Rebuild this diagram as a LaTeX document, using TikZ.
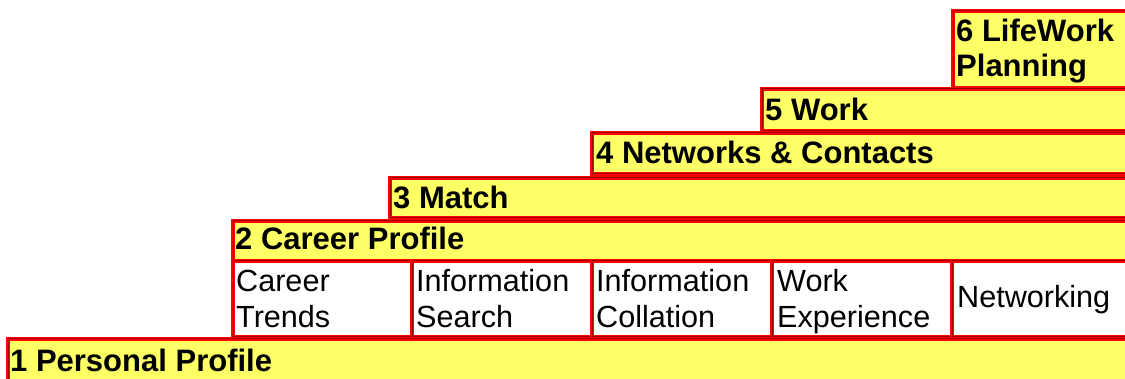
\documentclass[tikz,border=0pt]{standalone}
\usepackage{fontspec}
\setmainfont{Liberation Sans}
\definecolor{boxfill}{HTML}{FFFF66}
\definecolor{edgered}{HTML}{FF0000}
\definecolor{edgedark}{HTML}{A00000}
\tikzset{
  tierbox/.style={draw=edgered, double=edgedark, double distance=1pt, line width=1.1pt, fill=boxfill},
  subbox/.style={draw=edgered, double=edgedark, double distance=1pt, line width=1.1pt, fill=white},
  headtext/.style={anchor=base west, inner sep=0pt, font=\fontsize{31}{36}\selectfont\bfseries, align=left},
  subtext/.style={anchor=base west, inner sep=0pt, font=\fontsize{30.6}{36}\selectfont, align=left},
}
\begin{document}
\begin{tikzpicture}[x=1pt,y=-1pt]
\useasboundingbox (0,0) rectangle (1125,379);
\clip (0,0) rectangle (1125,379);
% tier boxes
\draw[tierbox] (953,11) rectangle (1140,88) coordinate (b6);
\draw[tierbox] (762,89) rectangle (1140,131) coordinate (b5);
\draw[tierbox] (592,133) rectangle (1140,174) coordinate (b4);
\draw[tierbox] (390,178) rectangle (1140,218) coordinate (b3);
\draw[tierbox] (233,221) rectangle (1140,261) coordinate (b2);
\draw[subbox] (233,261) rectangle (412,337) coordinate (s1);
\draw[subbox] (412,261) rectangle (592,337) coordinate (s2);
\draw[subbox] (592,261) rectangle (772,337) coordinate (s3);
\draw[subbox] (772,261) rectangle (952,337) coordinate (s4);
\draw[subbox] (952,261) rectangle (1140,337) coordinate (s5);
\draw[tierbox] (8,339) rectangle (1140,395) coordinate (b1);
% texts
\node[headtext] (t1) at (10,372) {1 Personal Profile};
\node[headtext] (t2) at (235,250) {2 Career Profile};
\node[headtext] (t3) at (393,209) {3 Match};
\node[headtext] (t4) at (596,164) {4 Networks \& Contacts};
\node[headtext] (t5) at (765,121) {5 Work};
\node[headtext] (t6a) at (956,42) {6 LifeWork};
\node[headtext] (t6b) at (956,77) {Planning};
\node[subtext] (u1a) at (236,292) {Career};
\node[subtext] (u1b) at (236,328) {Trends};
\node[subtext] (u2a) at (416,292) {Information};
\node[subtext] (u2b) at (416,328) {Search};
\node[subtext] (u3a) at (596,292) {Information};
\node[subtext] (u3b) at (596,328) {Collation};
\node[subtext] (u4a) at (777,292) {Work};
\node[subtext] (u4b) at (777,328) {Experience};
\node[subtext] (u5) at (957,308) {Networking};
\end{tikzpicture}
\end{document}
